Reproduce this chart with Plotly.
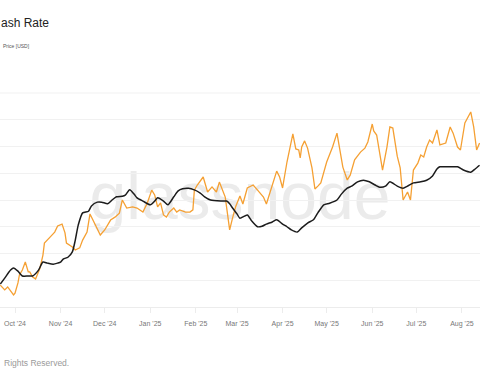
import plotly.graph_objects as go

# Price [USD] (orange)
price_dates = [
    "2024-09-21", "2024-09-24", "2024-09-26", "2024-09-30", "2024-10-01", "2024-10-03", "2024-10-04",
    "2024-10-06", "2024-10-08", "2024-10-10", "2024-10-11", "2024-10-13", "2024-10-15", "2024-10-17",
    "2024-10-18", "2024-10-20", "2024-10-21", "2024-10-25", "2024-10-28", "2024-10-30", "2024-11-02",
    "2024-11-04", "2024-11-05", "2024-11-09", "2024-11-11", "2024-11-14", "2024-11-16", "2024-11-19",
    "2024-11-21", "2024-11-24", "2024-11-28", "2024-12-01", "2024-12-05", "2024-12-08", "2024-12-11",
    "2024-12-13", "2024-12-16", "2024-12-20", "2024-12-23", "2024-12-27", "2024-12-30", "2025-01-02",
    "2025-01-04", "2025-01-06", "2025-01-08", "2025-01-10", "2025-01-12", "2025-01-14", "2025-01-17",
    "2025-01-19", "2025-01-21", "2025-01-25", "2025-01-28", "2025-01-30", "2025-01-31", "2025-02-02",
    "2025-02-06", "2025-02-09", "2025-02-12", "2025-02-15", "2025-02-17", "2025-02-21", "2025-02-23",
    "2025-02-24", "2025-02-26", "2025-02-28", "2025-03-03", "2025-03-05", "2025-03-08", "2025-03-12",
    "2025-03-15", "2025-03-19", "2025-03-21", "2025-03-25", "2025-03-28", "2025-03-30", "2025-04-01",
    "2025-04-04", "2025-04-06", "2025-04-08", "2025-04-10", "2025-04-12", "2025-04-13", "2025-04-14",
    "2025-04-16", "2025-04-18", "2025-04-21", "2025-04-23", "2025-04-25", "2025-04-27", "2025-05-01",
    "2025-05-05", "2025-05-08", "2025-05-10", "2025-05-12", "2025-05-15", "2025-05-17", "2025-05-20",
    "2025-05-24", "2025-05-27", "2025-05-29", "2025-06-01", "2025-06-02", "2025-06-04", "2025-06-06",
    "2025-06-08", "2025-06-11", "2025-06-13", "2025-06-15", "2025-06-18", "2025-06-20", "2025-06-22",
    "2025-06-25", "2025-06-27", "2025-06-29", "2025-07-02", "2025-07-04", "2025-07-06", "2025-07-08",
    "2025-07-10", "2025-07-12", "2025-07-15", "2025-07-17", "2025-07-21", "2025-07-24", "2025-07-26",
    "2025-07-29", "2025-07-31", "2025-08-03", "2025-08-07", "2025-08-09", "2025-08-11", "2025-08-13",
]
price_values = [
    58200, 56400, 57500, 54500, 55200, 59000, 62000,
    63800, 66800, 63100, 63100, 61200, 60500, 63100,
    64600, 69400, 73900, 76200, 78000, 80300, 81000,
    77700, 73900, 72400, 71300, 72100, 75000, 78000,
    84800, 81400, 76900, 78800, 82500, 83600, 85100,
    90000, 87000, 87400, 87000, 85500, 88900, 93700,
    91900, 87400, 88900, 84400, 83600, 85500, 87000,
    85500, 86300, 85500, 85500, 86300, 93700, 95600,
    98600, 93000, 94900, 93000, 96700, 91100, 82500,
    78800, 83300, 87400, 91500, 88500, 94500, 95600,
    93700, 91100, 88500, 96000, 100800, 98600, 94500,
    104200, 109800, 114700, 109100, 108700, 105700, 109800,
    112100, 109400, 102000, 94100, 95200, 96400, 104200,
    109800, 115000, 107900, 102300, 97500, 99300, 105000,
    107900, 109400, 111700, 118400, 115800, 114300, 107900,
    101200, 109800, 117300, 116900, 106400, 102000, 90000,
    93000, 90000, 101200, 103800, 106800, 106100, 109800,
    112400, 111300, 116200, 110600, 111300, 117300, 115000,
    109800, 108700, 118800, 122900, 117300, 108700, 111300,
]

# Hash Rate (black, smoothed)
hash_dates = [
    "2024-09-21", "2024-09-24", "2024-09-28", "2024-09-30", "2024-10-03", "2024-10-06", "2024-10-10",
    "2024-10-13", "2024-10-17", "2024-10-20", "2024-10-23", "2024-10-27", "2024-10-30", "2024-11-01",
    "2024-11-03", "2024-11-06", "2024-11-09", "2024-11-11", "2024-11-13", "2024-11-16", "2024-11-20",
    "2024-11-22", "2024-11-26", "2024-11-29", "2024-12-03", "2024-12-06", "2024-12-09", "2024-12-13",
    "2024-12-15", "2024-12-18", "2024-12-21", "2024-12-23", "2024-12-27", "2025-01-01", "2025-01-04",
    "2025-01-06", "2025-01-10", "2025-01-13", "2025-01-17", "2025-01-20", "2025-01-23", "2025-01-27",
    "2025-01-31", "2025-02-04", "2025-02-07", "2025-02-11", "2025-02-18", "2025-02-22", "2025-02-24",
    "2025-02-26", "2025-03-01", "2025-03-03", "2025-03-08", "2025-03-11", "2025-03-15", "2025-03-18",
    "2025-03-21", "2025-03-25", "2025-03-28", "2025-04-01", "2025-04-04", "2025-04-07", "2025-04-11",
    "2025-04-14", "2025-04-18", "2025-04-22", "2025-04-25", "2025-04-29", "2025-05-03", "2025-05-08",
    "2025-05-11", "2025-05-15", "2025-05-18", "2025-05-22", "2025-05-26", "2025-05-30", "2025-06-03",
    "2025-06-06", "2025-06-10", "2025-06-13", "2025-06-18", "2025-06-22", "2025-06-25", "2025-06-29",
    "2025-07-04", "2025-07-08", "2025-07-12", "2025-07-15", "2025-07-17", "2025-07-23", "2025-07-29",
    "2025-08-02", "2025-08-07", "2025-08-10", "2025-08-13",
]
hash_values = [
    593, 604, 619, 623, 617, 608, 608,
    608, 619, 634, 632, 630, 632, 634,
    640, 643, 653, 675, 703, 726, 729,
    739, 746, 746, 743, 750, 756, 757,
    759, 769, 761, 754, 748, 741, 748,
    754, 748, 741, 756, 767, 771, 772,
    769, 763, 756, 750, 748, 748, 743,
    735, 724, 716, 722, 711, 700, 701,
    705, 709, 713, 705, 700, 694, 690,
    698, 707, 713, 726, 741, 744, 750,
    761, 772, 776, 784, 787, 784, 778,
    774, 776, 784, 776, 772, 776, 782,
    784, 787, 795, 808, 812, 812, 812,
    806, 802, 808, 815,
]

month_ticks = ["2024-10-01", "2024-11-01", "2024-12-01", "2025-01-01", "2025-02-01", "2025-03-01",
               "2025-04-01", "2025-05-01", "2025-06-01", "2025-07-01", "2025-08-01"]
month_labels = ["Oct '24", "Nov '24", "Dec '24", "Jan '25", "Feb '25", "Mar '25",
                "Apr '25", "May '25", "Jun '25", "Jul '25", "Aug '25"]

W, H = 480, 384
top, bottom = 93, 307  # plot-area pixel rows


def py(p):
    return (bottom - p) / (bottom - top)


fig = go.Figure()
fig.add_trace(go.Scatter(x=price_dates, y=price_values, mode="lines",
                         line=dict(color="#f5a033", width=1.3), name="Price [USD]", yaxis="y"))
fig.add_trace(go.Scatter(x=hash_dates, y=hash_values, mode="lines",
                         line=dict(color="#1c1c1c", width=1.5, shape="spline", smoothing=0.6),
                         name="Hash Rate", yaxis="y2"))

fig.update_layout(
    width=W, height=H,
    margin=dict(l=0, r=0, t=top, b=H - bottom, pad=0),
    paper_bgcolor="white", plot_bgcolor="white",
    showlegend=False,
    font=dict(family="Liberation Sans, Arial, sans-serif"),
    xaxis=dict(
        type="date",
        range=["2024-09-20 19:00", "2025-08-13 07:00"],
        tickvals=month_ticks, ticktext=month_labels,
        showgrid=False, zeroline=False,
        showline=True, linecolor="#ececec", linewidth=1,
        ticks="outside", ticklen=5, tickcolor="#ececec", tickwidth=1,
        tickfont=dict(size=7, color="#777777"),
        ticklabelstandoff=5,
    ),
    yaxis=dict(
        range=[50000, 130000], dtick=10000, tick0=50000,
        showgrid=True, gridcolor="#f1f1f1", gridwidth=1,
        zeroline=False, showticklabels=False, ticks="",
    ),
    yaxis2=dict(
        range=[550, 950], overlaying="y", side="right",
        showgrid=False, zeroline=False, showticklabels=False, ticks="",
    ),
    shapes=[
        dict(type="rect", xref="paper", yref="paper",
             x0=0.1, x1=0.9, y0=py(210), y1=py(170),
             line=dict(width=0), fillcolor="rgba(0,0,0,0)", layer="below",
             label=dict(text="glassnode", textposition="middle center",
                        font=dict(size=66, color="#ebebeb",
                                  family="Liberation Sans, Arial, sans-serif"))),
        dict(type="line", xref="paper", yref="paper", x0=0, x1=1, y0=1, y1=1,
             line=dict(color="#f1f1f1", width=1), layer="below"),
    ],
    annotations=[
        dict(text="ash Rate", xref="paper", yref="paper", x=0, y=py(23),
             xanchor="left", yanchor="middle", showarrow=False, borderpad=0,
             font=dict(size=12, color="#222222")),
        dict(text="Price [USD]", xref="paper", yref="paper", x=2 / W, y=py(46),
             xanchor="left", yanchor="middle", showarrow=False, borderpad=0,
             font=dict(size=5, color="#555555")),
        dict(text="Rights Reserved.", xref="paper", yref="paper", x=3 / W, y=py(363),
             xanchor="left", yanchor="middle", showarrow=False, borderpad=0,
             font=dict(size=8.5, color="#9a9a9a")),
    ],
)

fig.write_html(
    "out.html",
    config={"displayModeBar": False, "staticPlot": True},
    post_script="document.body.style.margin='0px';document.body.style.padding='0px';"
                "document.body.style.overflow='hidden';",
)
